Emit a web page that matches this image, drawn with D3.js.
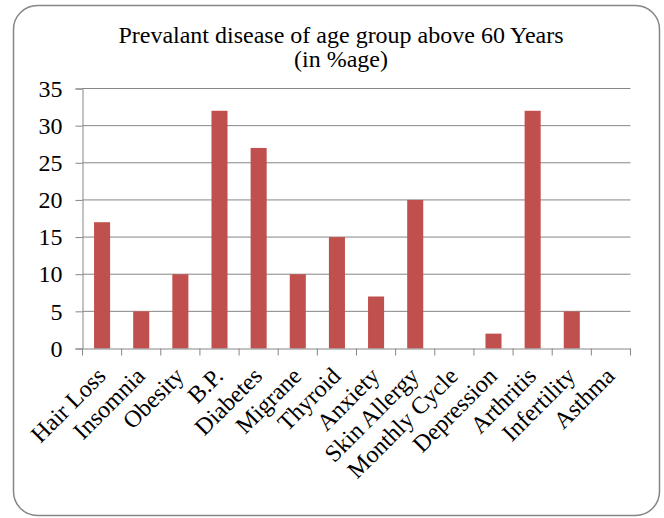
<!DOCTYPE html>
<html><head><meta charset="utf-8">
<script src="https://cdn.jsdelivr.net/npm/d3@7"></script>
<style>body{margin:0;background:#fff}svg{display:block}</style>
</head><body>
<script>
const categories = ["Hair Loss","Insomnia","Obesity","B.P.","Diabetes","Migrane","Thyroid","Anxiety","Skin Allergy","Monthly Cycle","Depression","Arthritis","Infertility","Asthma"];
const values = [17,5,10,32,27,10,15,7,20,0,2,32,5,0];
const yTicks = [0,5,10,15,20,25,30,35];
const titleLines = ["Prevalant disease of age group above 60 Years","(in %age)"];

(function(){
const W = 664, H = 518;
const svg = d3.select("body").append("svg").attr("width", W).attr("height", H);
const font = "'Liberation Serif','Times New Roman',serif";

svg.append("rect").attr("x",13.5).attr("y",5.5).attr("width",646).attr("height",510)
  .attr("rx",24).attr("ry",24).attr("fill","#fff").attr("stroke","#868686").attr("stroke-width",1.5);

const pl = 82.5, pr = 630.5, pt = 88.5, pb = 348.5;
const x = d3.scaleBand().domain(categories).range([pl,pr]).paddingInner(0.59).paddingOuter(0.295);
const xb = d3.scaleBand().domain(categories).range([pl,pr]);
const y = d3.scaleLinear().domain([0,35]).range([pb,pt]);

svg.append("g").selectAll("line").data(yTicks.filter(d=>d>0)).join("line")
  .attr("x1",pl).attr("x2",pr).attr("y1",d=>y(d)).attr("y2",d=>y(d))
  .attr("stroke","#868686").attr("stroke-width",1);

svg.append("g").selectAll("rect").data(values).join("rect")
  .attr("x",(d,i)=>x(categories[i])).attr("width",x.bandwidth())
  .attr("y",d=>y(d)).attr("height",d=>pb-y(d)).attr("fill","#C0504D");

const yAxis = svg.append("g").attr("transform",`translate(${pl},0)`)
  .call(d3.axisLeft(y).tickValues(yTicks).tickSize(7).tickPadding(13).tickFormat(d3.format("d")));
yAxis.select(".domain").attr("stroke","#868686");
yAxis.selectAll(".tick line").attr("stroke","#868686");
yAxis.selectAll(".tick text").attr("font-family",font).attr("font-size","24px").attr("fill","#000");

const xAxis = svg.append("g").attr("transform",`translate(0,${pb})`)
  .call(d3.axisBottom(xb).tickSize(0).tickFormat(""));
xAxis.select(".domain").attr("stroke","#868686");
svg.append("g").selectAll("line").data(d3.range(categories.length+1)).join("line")
  .attr("x1",i=>pl + i*xb.bandwidth()).attr("x2",i=>pl + i*xb.bandwidth())
  .attr("y1",pb).attr("y2",pb+7).attr("stroke","#868686");

svg.append("g").selectAll("text").data(categories).join("text")
  .attr("transform",d=>`translate(${xb(d)+xb.bandwidth()/2+5},${pb+29}) rotate(-45)`)
  .attr("text-anchor","end")
  .attr("font-family",font).attr("font-size","24px").attr("fill","#000")
  .text(d=>d);

svg.append("g").selectAll("text").data(titleLines).join("text")
  .attr("x",341).attr("y",(d,i)=>43+i*24).attr("text-anchor","middle")
  .attr("font-family",font).attr("font-size","24px").attr("fill","#000").text(d=>d);
})();
</script>
</body></html>
